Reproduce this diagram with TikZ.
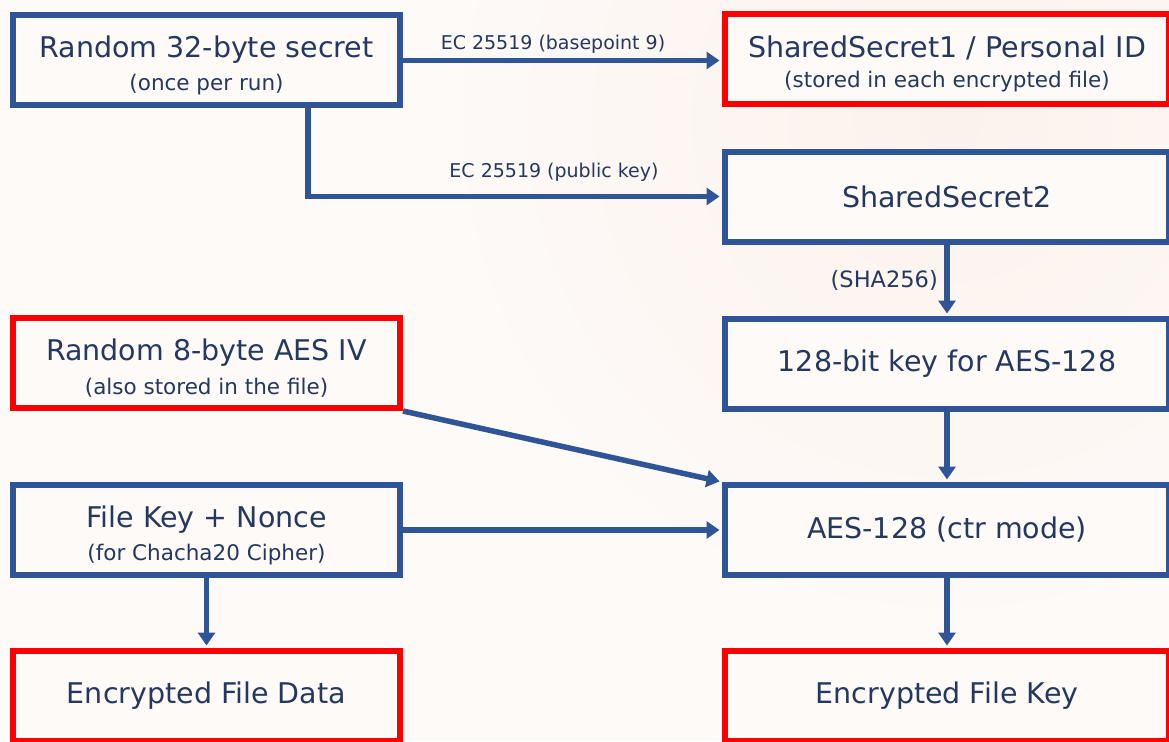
\documentclass[tikz,border=0pt]{standalone}
\usepackage{fontspec}
\setmainfont{DejaVu Sans}
\usetikzlibrary{arrows.meta,shadings}
\definecolor{bgcol}{RGB}{253,250,248}
\definecolor{peach}{RGB}{252,242,236}
\definecolor{boxblue}{RGB}{47,85,151}
\definecolor{boxred}{RGB}{255,0,0}
\definecolor{txt}{RGB}{36,56,96}
\tikzset{
  box/.style={draw=boxblue, line width=6pt, fill=bgcol, minimum height=90pt, text=txt, align=center, inner sep=0pt},
  leftbox/.style={box, minimum width=387pt},
  rightbox/.style={box, minimum width=444pt},
  redbox/.style={draw=boxred},
  arr/.style={draw=boxblue, line width=5.5pt, -{Triangle[length=13pt,width=17pt]}, shorten >=2.5pt},
  lbl/.style={text=txt, font=\fontsize{19}{22}\selectfont, inner sep=1pt},
}
\newcommand{\mainline}[1]{{\fontsize{28.5}{34}\selectfont #1}}
\newcommand{\topline}[1]{{\fontsize{28.5}{34}\selectfont\rule{0pt}{32pt}#1}}
\newcommand{\subline}[1]{{\fontsize{21.5}{26}\selectfont #1}}
\begin{document}
\begin{tikzpicture}[x=1pt,y=-1pt]
\useasboundingbox (0,0) rectangle (1169,741);
\clip (0,0) rectangle (1169,741);
\fill[bgcol] (0,0) rectangle (1169,741);
\shade[inner color=peach, outer color=bgcol] (950,120) circle (520);

\node[leftbox] (A) at (206.5,60.5) {\topline{Random 32-byte secret}\\[10pt]\subline{(once per run)}};
\node[rightbox, redbox] (B) at (947,59) {\topline{SharedSecret1 / Personal ID}\\[10pt]\subline{(stored in each encrypted file)}};
\node[rightbox] (C) at (947,196.5) {\mainline{SharedSecret2}};
\node[rightbox] (D) at (947,364) {\mainline{128-bit key for AES-128}};
\node[rightbox] (E) at (947,530) {\mainline{AES-128 (ctr mode)}};
\node[rightbox, redbox] (F) at (947,696) {\mainline{Encrypted File Key}};
\node[leftbox, redbox] (G) at (206.5,363) {\topline{Random 8-byte AES IV}\\[10pt]\subline{(also stored in the file)}};
\node[leftbox] (H) at (206.5,530) {\topline{File Key + Nonce}\\[10pt]\subline{(for Chacha20 Cipher)}};
\node[leftbox, redbox] (I) at (206.5,696) {\mainline{Encrypted File Data}};

\coordinate (bend) at (308,196.5);
\draw[arr] (A.east) -- (A.east -| B.west);
\draw[arr] (A.south -| bend) -- (bend) -- (C.west);
\draw[arr] (C.south) -- (D.north);
\draw[arr] (D.south) -- (E.north);
\draw[arr] (E.south) -- (F.north);
\draw[arr] (G.south east) -- (E.north west);
\draw[arr] (H.east) -- (E.west);
\draw[arr] (H.south) -- (I.north);

\node[lbl] (l1) at (553,44) {EC 25519 (basepoint 9)};
\node[lbl] (l2) at (554,172) {EC 25519 (public key)};
\node[lbl, anchor=east, font=\fontsize{22.5}{26}\selectfont] (l3) at (939,280) {(SHA256)};
\end{tikzpicture}
\end{document}
